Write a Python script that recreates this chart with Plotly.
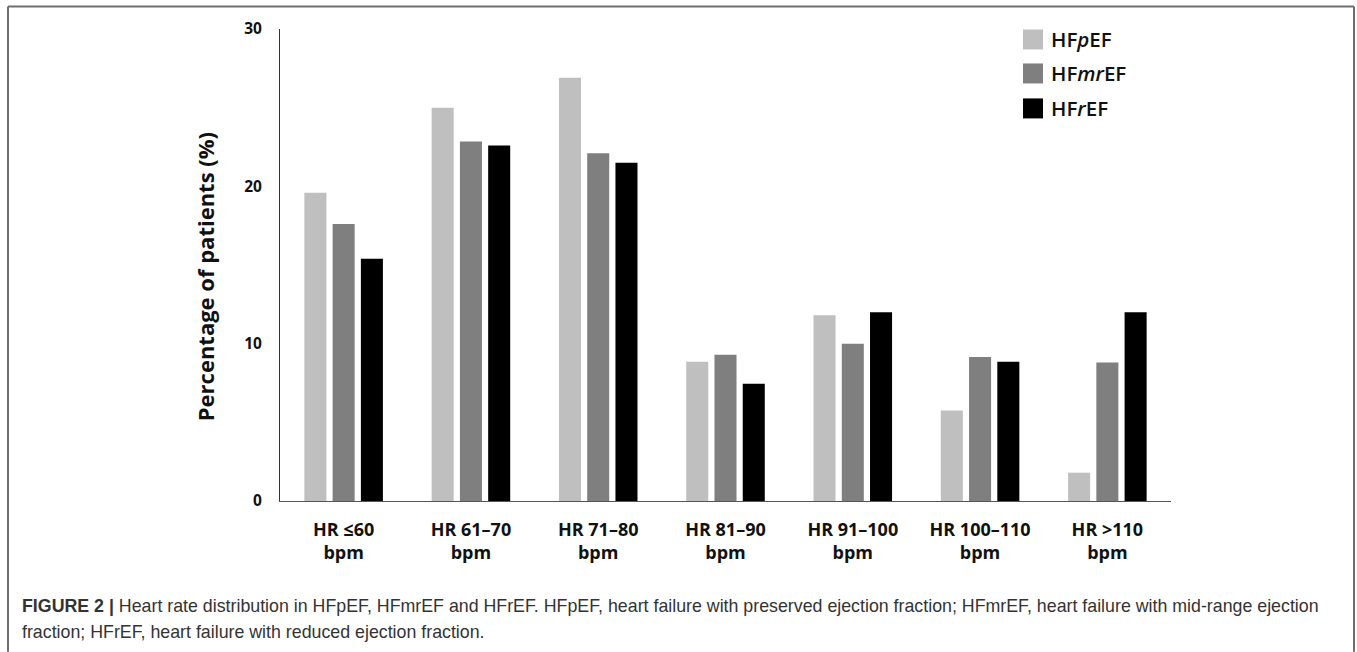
import plotly.graph_objects as go

categories = ["HR ≤60<br>bpm", "HR 61–70<br>bpm", "HR 71–80<br>bpm", "HR 81–90<br>bpm",
              "HR 91–100<br>bpm", "HR 100–110<br>bpm", "HR >110<br>bpm"]
series_names = ["HFpEF", "HFmrEF", "HFrEF"]
legend_labels = ["HF<i>p</i>EF", "HF<i>mr</i>EF", "HF<i>r</i>EF"]
hfpef = [19.6, 25.0, 26.9, 8.85, 11.8, 5.75, 1.8]
hfmref = [17.6, 22.85, 22.1, 9.3, 10.0, 9.15, 8.8]
hfref = [15.4, 22.6, 21.5, 7.45, 12.0, 8.85, 12.0]
colors = ["#bfbfbf", "#7f7f7f", "#000000"]
ytick_vals = [0, 10, 20, 30]
y_title = "Percentage of patients (%)"
caption_1 = ("<b>FIGURE 2 |</b> Heart rate distribution in HFpEF, HFmrEF and HFrEF. HFpEF, heart failure "
             "with preserved ejection fraction; HFmrEF, heart failure with mid-range ejection")
caption_2 = "fraction; HFrEF, heart failure with reduced ejection fraction."

W, H = 1357, 652
L, R, T, B = 280, 1171, 28.5, 501  # plot area in px
pw, ph = R - L, B - T


def px(x):
    return (x - L) / pw


def py(y):
    return (B - y) / ph


fig = go.Figure()
for name, vals, col in zip(series_names, [hfpef, hfmref, hfref], colors):
    fig.add_trace(go.Bar(x=categories, y=vals, name=name, marker=dict(color=col, line=dict(width=0)),
                         showlegend=False))

font_main = "Open Sans"
fig.update_layout(
    width=W, height=H,
    margin=dict(l=L, r=W - R, t=T, b=H - B, autoexpand=False),
    paper_bgcolor="white", plot_bgcolor="white",
    barmode="group", bargap=0.334, bargroupgap=0.22,
    xaxis=dict(showline=True, linecolor="#555", linewidth=1.3, showgrid=False, ticks="",
               tickfont=dict(family=font_main, size=18, color="#111", weight="bold"),
               ticklabelstandoff=12),
    yaxis=dict(range=[0, 30], tickvals=ytick_vals, showline=True, linecolor="#333", linewidth=1,
               showgrid=False, zeroline=False, ticks="",
               tickfont=dict(family=font_main, size=15.5, color="#111", weight="bold"),
               ticklabelstandoff=14),
)

border = dict(color="#6e6e6e", width=2)
shapes = [
    dict(type="line", xref="paper", yref="paper", x0=px(8), x1=px(1354), y0=py(6), y1=py(6), line=border),
    dict(type="line", xref="paper", yref="paper", x0=px(8), x1=px(8), y0=py(6), y1=py(652), line=border),
    dict(type="line", xref="paper", yref="paper", x0=px(1354), x1=px(1354), y0=py(6), y1=py(652), line=border),
]
annotations = [dict(xref="paper", yref="paper", x=px(205), y=py(277), text=y_title, textangle=-90,
                    showarrow=False, xanchor="center", yanchor="middle",
                    font=dict(family=font_main, size=22, color="#111", weight="bold"))]
leg_y = [39, 73, 108]
for lab, col, yc in zip(legend_labels, colors, leg_y):
    shapes.append(dict(type="rect", xref="paper", yref="paper", x0=px(1023), x1=px(1043),
                       y0=py(yc + 10), y1=py(yc - 10), fillcolor=col, line=dict(width=0)))
    annotations.append(dict(xref="paper", yref="paper", x=px(1049), y=py(yc), text=lab,
                            showarrow=False, xanchor="left", yanchor="middle",
                            font=dict(family=font_main, size=20.5, color="#111", weight=600)))

for txt, yc in [(caption_1, 606), (caption_2, 632)]:
    annotations.append(dict(xref="paper", yref="paper", x=px(20), y=py(yc), text=txt,
                            showarrow=False, xanchor="left", yanchor="middle",
                            font=dict(family="Liberation Sans", size=17.8, color="#333")))

fig.update_layout(shapes=shapes, annotations=annotations)
fig.write_html("out.html", config={"displayModeBar": False},
               post_script="document.body.style.margin='0px';document.body.style.overflow='hidden';")
